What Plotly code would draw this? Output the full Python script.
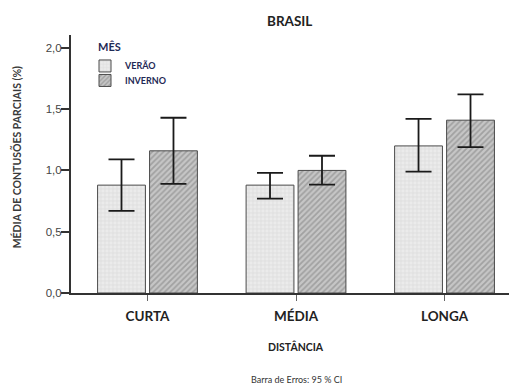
import plotly.graph_objects as go

categories = ["CURTA", "MÉDIA", "LONGA"]
verao_mean = [0.88, 0.88, 1.20]
verao_upper = [1.09, 0.98, 1.42]
verao_lower = [0.67, 0.77, 0.99]
inverno_mean = [1.16, 1.00, 1.41]
inverno_upper = [1.43, 1.12, 1.62]
inverno_lower = [0.89, 0.885, 1.19]
y_ticks = [0.0, 0.5, 1.0, 1.5, 2.0]
y_ticklabels = ["0,0", "0,5", "1,0", "1,5", "2,0"]

FONT = "Lato"
NAVY = "#1f2a55"

# page body has an 8px default margin: figure coordinates = window coordinates - 8
SHIFT = 8
PL, PR, PT, PB = 71, 517, 35, 293.3  # plot area in window pixels
W, H = 517 - SHIFT, 387 - SHIFT


def px(xw):
    return (xw - PL) / (PR - PL)


def py(yw):
    return (PB - yw) / (PB - PT)


def err(mean, up, lo):
    return dict(type="data", symmetric=False,
                array=[u - m for u, m in zip(up, mean)],
                arrayminus=[m - l for m, l in zip(mean, lo)],
                color="#1a1a1a", thickness=1.8, width=13)


fig = go.Figure()
fig.add_trace(go.Bar(
    x=categories, y=verao_mean, name="VERÃO", legend="legend",
    marker=dict(color="#e4e4e4", line=dict(color="#4a4a4a", width=1),
                pattern=dict(shape="+", fgcolor="#cdcdcd", bgcolor="#ebebeb", size=4, solidity=0.3)),
    error_y=err(verao_mean, verao_upper, verao_lower),
))
fig.add_trace(go.Bar(
    x=categories, y=inverno_mean, name="INVERNO", legend="legend2",
    marker=dict(color="#b8b8b8", line=dict(color="#4a4a4a", width=1),
                pattern=dict(shape="/", fgcolor="#7c7c7c", bgcolor="#c6c6c6", size=4, solidity=0.45)),
    error_y=err(inverno_mean, inverno_upper, inverno_lower),
))

leg_common = dict(font=dict(size=9, color=NAVY, family=FONT, weight="bold"),
                  xanchor="left", yanchor="middle", bgcolor="rgba(0,0,0,0)",
                  borderwidth=0, itemwidth=30)

fig.update_layout(
    width=W, height=H,
    margin=dict(l=PL - SHIFT, r=0, t=PT - SHIFT, b=H - (PB - SHIFT), pad=0),
    paper_bgcolor="white", plot_bgcolor="white",
    barmode="group", bargap=0.3, bargroupgap=0.08,
    font=dict(family=FONT, color="#2a2a2a"),
    showlegend=True,
    legend=dict(x=px(85), y=py(66), **leg_common),
    legend2=dict(x=px(85), y=py(80.5), **leg_common),
    xaxis=dict(
        type="category", range=[-0.515, 2.488],
        showline=True, linecolor="#333333", linewidth=2,
        ticks="outside", ticklen=6, tickcolor="#666666", tickwidth=1,
        tickfont=dict(family=FONT, size=13.5, color="#222222", weight="bold"),
        showgrid=False, zeroline=False, ticklabelstandoff=4,
    ),
    yaxis=dict(
        range=[0, 2.105],
        showline=True, linecolor="#333333", linewidth=2,
        ticks="outside", ticklen=8, tickcolor="#333333", tickwidth=1.5,
        tickvals=y_ticks, ticktext=y_ticklabels,
        tickfont=dict(family="Liberation Sans", size=11.5, color="#444444"),
        showgrid=False, zeroline=False, ticklabelstandoff=-3,
    ),
    annotations=[
        dict(text="<b>BRASIL</b>", xref="paper", yref="paper",
             x=px(289), y=py(21), xanchor="center", yanchor="middle", showarrow=False,
             font=dict(size=13.5, color="#222222", family=FONT)),
        dict(text="<b>MÊS</b>", xref="paper", yref="paper",
             x=px(96), y=py(47), xanchor="left", yanchor="middle", showarrow=False,
             font=dict(size=11, color=NAVY, family=FONT)),
        dict(text="<b>MÉDIA DE CONTUSÕES PARCIAIS (%)</b>", textangle=-90,
             xref="paper", yref="paper", x=px(16), y=py(157.5),
             xanchor="center", yanchor="middle",
             showarrow=False, font=dict(size=10.5, color="#3a3a3a", family=FONT)),
        dict(text="<b>DISTÂNCIA</b>", xref="paper", yref="paper",
             x=px(296), y=py(347), xanchor="center", yanchor="middle", showarrow=False,
             font=dict(size=10.5, color="#222222", family=FONT)),
        dict(text="Barra de Erros: 95 % CI", xref="paper", yref="paper",
             x=px(296), y=py(380), xanchor="center", yanchor="middle", showarrow=False,
             font=dict(size=9, color="#333333", family=FONT)),
    ],
)

fig.write_html("out.html")
